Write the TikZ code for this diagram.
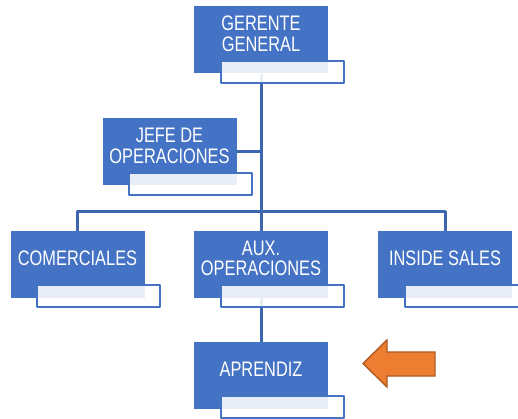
\documentclass[tikz,border=0pt]{standalone}
\usepackage{fontspec}
\setmainfont{Liberation Sans}[FakeStretch=0.78]
\usepackage{tikz}
\usetikzlibrary{calc}

\definecolor{azul}{HTML}{4472C4}
\definecolor{linea}{HTML}{3D66B0}
\definecolor{naranja}{HTML}{ED7D31}
\definecolor{naranjaborde}{HTML}{AE5A21}

\begin{document}
\begin{tikzpicture}[
            x = 1pt, y = -1pt, % image coordinates
            line join = round,
            conector/.style = {draw = linea, line width = 3pt} % connector line style
        ]

        \tikzstyle{puesto}=[
            fill = azul,
            minimum width = 134pt,
            minimum height = 67pt,
            inner sep = 0pt
        ]
        \tikzstyle{texto}=[
            text = white,
            align = center,
            font = \fontsize{21}{20.5}\selectfont,
            yshift = 6pt
        ]
        \tikzstyle{tag}=[
            draw = azul,
            line width = 1.9pt,
            fill = white,
            fill opacity = 0.88,
            minimum width = 123pt,
            minimum height = 22pt,
            inner sep = 0pt,
            anchor = north west
        ]

        \clip (0,0) rectangle (518,419);
        \fill[white] (0,0) rectangle (518,419);

        \node[puesto] (gerente) at (261,40) {};
        \node[puesto] (jefe) at (169.5,152) {};
        \node[puesto] (comerciales) at (77.5,264.5) {};
        \node[puesto] (aux) at (261,264.5) {};
        \node[puesto] (inside) at (445,264.5) {};
        \node[puesto] (aprendiz) at (261,375.5) {};

        % connectors first, so that the boxes cover them
        \draw[conector] (gerente.south) -- (aux.north);
        \draw[conector] (jefe.east) -- (jefe.east -| gerente.south);
        \draw[conector] (comerciales.north) -- ++(0,-19) -| (inside.north);
        \draw[conector] (aux.south) -- (aprendiz.north);

        \node[puesto, label={[texto]center:GERENTE\\GENERAL}] at (gerente) {};
        \node[puesto, label={[texto]center:JEFE DE\\OPERACIONES}] at (jefe) {};
        \node[puesto, label={[texto]center:COMERCIALES}] at (comerciales) {};
        \node[puesto, label={[texto]center:AUX.\\OPERACIONES}] at (aux) {};
        \node[puesto, label={[texto]center:INSIDE SALES}] at (inside) {};
        \node[puesto, label={[texto]center:APRENDIZ}] at (aprendiz) {};

        \node[tag] (gerente-t) at ($(gerente.south west)+(26,-14)$) {};
        \node[tag] (jefe-t) at ($(jefe.south west)+(26,-14)$) {};
        \node[tag] (comerciales-t) at ($(comerciales.south west)+(26,-14)$) {};
        \node[tag] (aux-t) at ($(aux.south west)+(26,-14)$) {};
        \node[tag] (inside-t) at ($(inside.south west)+(26,-14)$) {};
        \node[tag] (aprendiz-t) at ($(aprendiz.south west)+(26,-14)$) {};

        % flecha
        \draw[fill = naranja, draw = naranjaborde, line width = 1.4pt, line join = miter]
            (435,352) -- (387,352) -- (387,340) -- (363,363.5) -- (387,387)
            -- (387,376) -- (435,376) -- cycle;

\end{tikzpicture}
\end{document}
